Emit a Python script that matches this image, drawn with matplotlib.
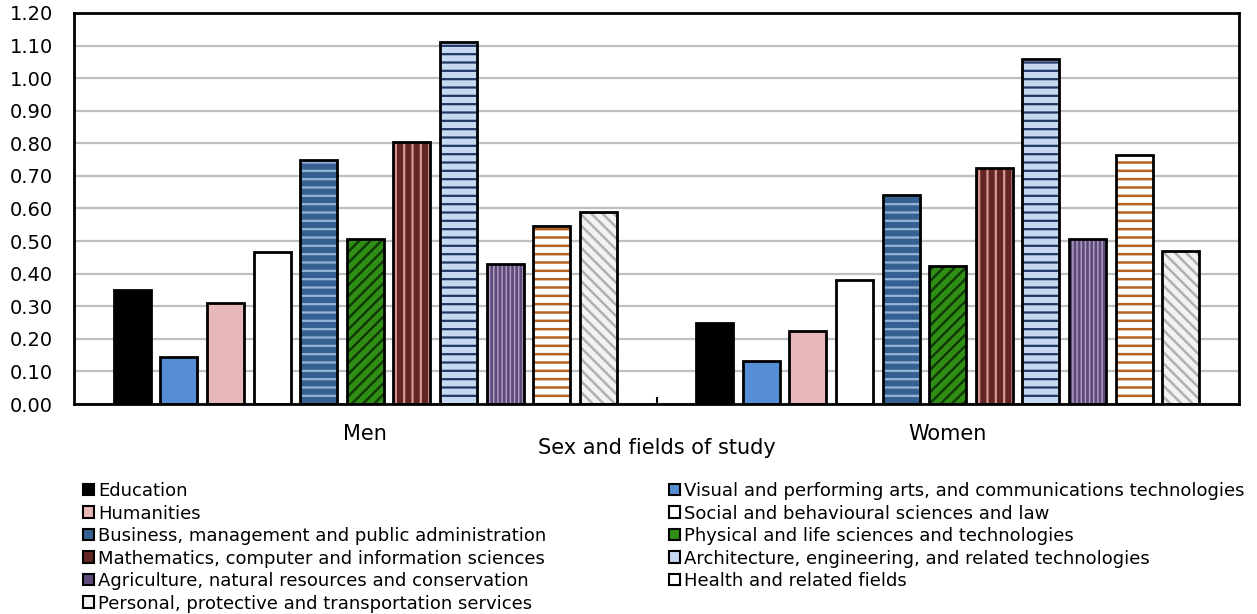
import matplotlib
matplotlib.use("Agg")
import matplotlib.pyplot as plt
import numpy as np
from matplotlib.patches import Patch
from matplotlib.ticker import FormatStrFormatter, MultipleLocator

groups = ["Men", "Women"]
fields = [
    "Education",
    "Visual and performing arts, and communications technologies",
    "Humanities",
    "Social and behavioural sciences and law",
    "Business, management and public administration",
    "Physical and life sciences and technologies",
    "Mathematics, computer and information sciences",
    "Architecture, engineering, and related technologies",
    "Agriculture, natural resources and conservation",
    "Health and related fields",
    "Personal, protective and transportation services",
]
men = [0.35, 0.145, 0.31, 0.465, 0.75, 0.505, 0.805, 1.11, 0.43, 0.545, 0.59]
women = [0.25, 0.132, 0.225, 0.38, 0.64, 0.425, 0.725, 1.06, 0.505, 0.765, 0.47]

# style: (face, hatch, hatch colour, hatch linewidth)
styles = [
    ("#000000", "", "#000000", 1.0),
    ("#558ED5", "", "#558ED5", 1.0),
    ("#E6B9B8", "", "#E6B9B8", 1.0),
    ("#FFFFFF", "", "#FFFFFF", 1.0),
    ("#376092", "--", "#95B3D7", 1.6),
    ("#2F8F14", "///", "#123A08", 1.8),
    ("#632523", "||", "#D99694", 1.6),
    ("#C6D9F1", "--", "#1F3864", 1.6),
    ("#604A7B", "||||", "#B3A2C7", 1.0),
    ("#FFFFFF", "--", "#B7621F", 1.8),
    ("#F2F2F2", "\\\\\\", "#B0B0B0", 1.8),
]

plt.rcParams["font.family"] = ["DejaVu Sans"]

fig = plt.figure(figsize=(12.57, 6.14), dpi=100)
ax = fig.add_axes([74 / 1257, 1 - 404 / 614, (1239 - 74) / 1257, (404 - 13) / 614])

x = np.arange(len(groups))
slot = 0.08
width = 0.0635
n = len(fields)
for i in range(n):
    vals = [men[i], women[i]]
    pos = x + (i - (n - 1) / 2) * slot
    face, hatch, hcol, hlw = styles[i]
    plt.rcParams["hatch.linewidth"] = hlw
    bars = ax.bar(pos, vals, width, facecolor=face, edgecolor=hcol, hatch=hatch,
                  linewidth=0, zorder=2)
    for b in bars:
        try:
            b.set_hatch_linewidth(hlw)
        except Exception:
            pass
    ax.bar(pos, vals, width, fill=False, edgecolor="black", linewidth=2, zorder=3)

ax.set_xlim(-0.5, 1.5)
ax.set_ylim(0, 1.2)
ax.yaxis.set_major_locator(MultipleLocator(0.1))
ax.yaxis.set_major_formatter(FormatStrFormatter("%.2f"))
ax.yaxis.grid(True, color="#BFBFBF", linewidth=1.6, zorder=0)
ax.set_axisbelow(True)
ax.tick_params(axis="y", length=0, pad=15, labelsize=14)
ax.set_xticks(x)
ax.set_xticklabels(groups)
ax.tick_params(axis="x", length=0, pad=14.5, labelsize=15)
ax.set_xticks([0.5], minor=True)
ax.tick_params(axis="x", which="minor", direction="in", length=5, width=1.5, color="black")
ax.set_xlabel("Sex and fields of study", fontsize=15, labelpad=-4.5)
for s in ax.spines.values():
    s.set_linewidth(2)
    s.set_color("black")

handles = [Patch(facecolor=styles[i][0], edgecolor="black", linewidth=1.5) for i in range(n)]
col1 = [0, 2, 4, 6, 8, 10]
col2 = [1, 3, 5, 7, 9]
common = dict(frameon=False, fontsize=13, handlelength=0.6, handleheight=0.6,
              handletextpad=0.25, labelspacing=0.25, borderaxespad=0, borderpad=0,
              loc="upper left")
leg1 = fig.legend([handles[i] for i in col1], [fields[i] for i in col1],
                  bbox_to_anchor=(83 / 1257, 1 - 482 / 614), **common)
leg2 = fig.legend([handles[i] for i in col2], [fields[i] for i in col2],
                  bbox_to_anchor=(669 / 1257, 1 - 482 / 614), **common)

fig.savefig("out.png", dpi=100)
